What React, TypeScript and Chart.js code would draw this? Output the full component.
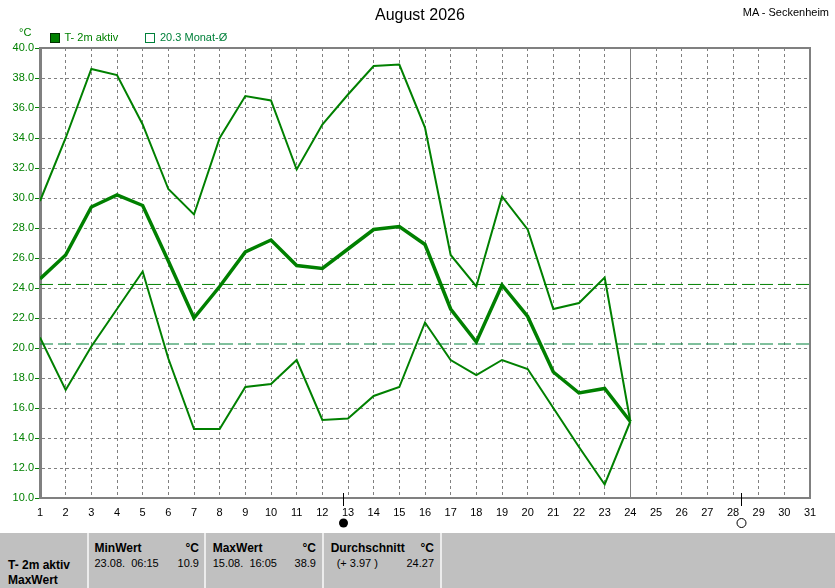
import React, { useEffect, useRef } from "react";
import { Chart, registerables } from "chart.js";

Chart.register(...registerables);

// ---------- data ----------
const days = [1, 2, 3, 4, 5, 6, 7, 8, 9, 10, 11, 12, 13, 14, 15, 16, 17, 18, 19, 20, 21, 22, 23, 24];
const maxValues = [29.8, 34.0, 38.6, 38.2, 34.9, 30.6, 28.9, 34.0, 36.8, 36.5, 31.9, 34.9, 36.9, 38.8, 38.9, 34.7, 26.2, 24.1, 30.1, 27.9, 22.6, 23.0, 24.7, 15.1];
const meanValues = [24.6, 26.2, 29.4, 30.2, 29.5, 25.8, 22.0, 24.1, 26.4, 27.2, 25.5, 25.3, 26.6, 27.9, 28.1, 26.9, 22.6, 20.4, 24.2, 22.1, 18.4, 17.0, 17.3, 15.1];
const minValues = [20.7, 17.2, 20.1, 22.6, 25.1, 19.3, 14.6, 14.6, 17.4, 17.6, 19.2, 15.2, 15.3, 16.8, 17.4, 21.7, 19.2, 18.2, 19.2, 18.6, 16.0, 13.4, 10.9, 15.1];
const periodAverage = 24.27;
const monthAverage = 20.3;
const xTickLabels = ["1", "2", "3", "4", "5", "6", "7", "8", "9", "10", "11", "12", "13", "14", "15", "16", "17", "18", "19", "20", "21", "22", "23", "24", "25", "26", "27", "28", "29", "30", "31"];
const currentDay = 24;
const moonDays = [12.82, 28.3];
const moonPhases = ["new", "full"];

const titleText = "August 2026";
const stationText = "MA - Seckenheim";
const unitText = "°C";
const seriesName = "T- 2m aktiv";
const monthLegend = "20.3 Monat-Ø";
const tableRowLabels = ["T- 2m aktiv", "MaxWert"];
const tableHeaders = ["MinWert", "MaxWert", "Durchschnitt"];
const tableLeft = ["23.08.  06:15", "15.08.  16:05", "(+ 3.97 )"];
const tableRight = ["10.9", "38.9", "24.27"];

// ---------- style ----------
const FONT = "'Liberation Sans', Arial, Helvetica, sans-serif";
const GREEN = "#008000";
const GREEN2 = "#00803a";
const GRAY = "#808080";

function Txt(props: {
  x: number;
  baseline: number;
  size: number;
  bold?: boolean;
  color?: string;
  align?: "left" | "right";
  children: React.ReactNode;
}) {
  const { x, baseline, size, bold, color, align, children } = props;
  const top = baseline - 0.8465 * size;
  const base: React.CSSProperties = {
    position: "absolute",
    top,
    fontFamily: FONT,
    fontSize: size,
    lineHeight: size + "px",
    fontWeight: bold ? "bold" : "normal",
    color: color || "#000",
    whiteSpace: "pre",
  };
  if (align === "right") {
    return (
      <div style={{ ...base, left: x - 300, width: 300, textAlign: "right" }}>{children}</div>
    );
  }
  return <div style={{ ...base, left: x }}>{children}</div>;
}

const framePlugin = {
  id: "frame",
  beforeDatasetsDraw(chart: any) {
    const { ctx, chartArea, scales } = chart;
    const x = scales.x.getPixelForValue(currentDay);
    ctx.save();
    ctx.strokeStyle = GRAY;
    ctx.lineWidth = 1;
    ctx.beginPath();
    ctx.moveTo(Math.round(x) + 0.5, chartArea.top);
    ctx.lineTo(Math.round(x) + 0.5, chartArea.bottom);
    ctx.stroke();
    ctx.lineWidth = 2;
    ctx.beginPath();
    ctx.moveTo(chartArea.left, chartArea.top);
    ctx.lineTo(chartArea.right, chartArea.top);
    ctx.lineTo(chartArea.right, chartArea.bottom);
    ctx.stroke();
    ctx.restore();
  },
  // keep the 1px dashed reference lines crisp
  beforeDatasetDraw(chart: any, args: any) {
    if (args.index >= 3) {
      chart.ctx.save();
      chart.ctx.translate(0, 0.5);
    }
  },
  afterDatasetDraw(chart: any, args: any) {
    if (args.index >= 3) chart.ctx.restore();
  },
  afterDraw(chart: any) {
    const { ctx, chartArea, scales } = chart;
    ctx.save();
    moonDays.forEach((d, i) => {
      const x = Math.round(scales.x.getPixelForValue(d)) + 0.5;
      ctx.strokeStyle = "#000";
      ctx.lineWidth = 1;
      ctx.beginPath();
      ctx.moveTo(x, chartArea.bottom - 5);
      ctx.lineTo(x, chartArea.bottom + 8);
      ctx.stroke();
      ctx.beginPath();
      ctx.arc(x, chartArea.bottom + 25, 4.5, 0, Math.PI * 2);
      if (moonPhases[i] === "new") {
        ctx.fillStyle = "#000";
        ctx.fill();
      } else {
        ctx.fillStyle = "#fff";
        ctx.fill();
        ctx.stroke();
      }
    });
    ctx.restore();
  },
};

export default function App() {
  const canvasRef = useRef<HTMLCanvasElement | null>(null);

  useEffect(() => {
    if (!canvasRef.current) return;
    const pts = (vals: number[]) => vals.map((v, i) => ({ x: days[i], y: v }));
    const flat = (v: number) => [
      { x: 1, y: v },
      { x: 31, y: v },
    ];
    const chart = new Chart(canvasRef.current, {
      type: "line",
      data: {
        datasets: [
          { label: "max", data: pts(maxValues), borderColor: GREEN, borderWidth: 2, pointRadius: 0, tension: 0 },
          { label: "mean", data: pts(meanValues), borderColor: GREEN, borderWidth: 3.5, pointRadius: 0, tension: 0 },
          { label: "min", data: pts(minValues), borderColor: GREEN, borderWidth: 2, pointRadius: 0, tension: 0 },
          { label: "avg", data: flat(periodAverage), borderColor: GREEN, borderWidth: 1, borderDash: [13, 5], pointRadius: 0 },
          { label: "month", data: flat(monthAverage), borderColor: GREEN2, borderWidth: 1, borderDash: [13, 5], pointRadius: 0 },
        ],
      },
      options: {
        animation: false,
        responsive: false,
        devicePixelRatio: 1,
        layout: { padding: { left: 0, top: 48, right: 25, bottom: 0 } },
        plugins: {
          legend: { display: false },
          tooltip: { enabled: false },
          title: { display: false },
        },
        scales: {
          x: {
            type: "linear",
            min: 1,
            max: 31,
            afterFit: (s: any) => {
              s.height = 35;
            },
            ticks: {
              stepSize: 1,
              autoSkip: false,
              maxRotation: 0,
              padding: 8,
              color: "#000",
              font: { family: FONT, size: 11 },
              callback: (v: any) => xTickLabels[Math.round(v) - 1] ?? "",
            },
            grid: { color: GRAY, lineWidth: 1, drawTicks: false },
            border: { display: true, color: GRAY, width: 2, dash: [3, 3] },
          },
          y: {
            type: "linear",
            min: 10,
            max: 40,
            afterFit: (s: any) => {
              s.width = 40;
            },
            ticks: {
              stepSize: 2,
              padding: 1,
              color: GREEN,
              font: { family: FONT, size: 11 },
              callback: (v: any) => Number(v).toFixed(1),
            },
            grid: {
              color: GRAY,
              lineWidth: 1,
              drawTicks: true,
              tickLength: 5,
              tickColor: GREEN,
              tickBorderDash: [],
            },
            border: { display: true, color: GRAY, width: 3, dash: [3, 3] },
          },
        },
      },
      plugins: [framePlugin],
    } as any);
    return () => chart.destroy();
  }, []);

  const sepXs = [87, 204, 322, 440];
  const colLeft = [94.5, 212.7, 330.7];
  const colRight = [199, 316, 434];

  return (
    <div
      style={{
        position: "absolute",
        left: 0,
        top: 0,
        width: 835,
        height: 588,
        background: "#fff",
        overflow: "hidden",
        fontFamily: FONT,
      }}
    >
      <canvas ref={canvasRef} width={835} height={533} style={{ position: "absolute", left: 0, top: 0, width: 835, height: 533 }} />

      <Txt x={375} baseline={20.7} size={16}>
        {titleText}
      </Txt>
      <Txt x={829} baseline={16.7} size={11} align="right">
        {stationText}
      </Txt>
      <Txt x={19} baseline={36.7} size={11} color={GREEN}>
        {unitText}
      </Txt>

      <div style={{ position: "absolute", left: 50, top: 33, width: 8, height: 8, background: GREEN, border: "1px solid #003000" }} />
      <Txt x={64.5} baseline={41.7} size={11} color={GREEN}>
        {seriesName}
      </Txt>
      <div style={{ position: "absolute", left: 145, top: 33, width: 8, height: 8, border: "1px solid " + GREEN2 }} />
      <Txt x={160} baseline={41.7} size={11} color={GREEN2}>
        {monthLegend}
      </Txt>

      <div style={{ position: "absolute", left: 0, top: 533, width: 835, height: 55, background: "#c0c0c0" }} />
      {sepXs.map((x) => (
        <div key={x} style={{ position: "absolute", left: x, top: 533, width: 2, height: 55, background: "#ececec" }} />
      ))}
      <Txt x={8} baseline={569} size={12} bold>
        {tableRowLabels[0]}
      </Txt>
      <Txt x={8} baseline={584.3} size={12} bold>
        {tableRowLabels[1]}
      </Txt>
      {tableHeaders.map((h, i) => (
        <React.Fragment key={h}>
          <Txt x={colLeft[i]} baseline={552.3} size={12} bold>
            {h}
          </Txt>
          <Txt x={colRight[i]} baseline={552.3} size={12} bold align="right">
            {unitText}
          </Txt>
          <Txt x={colLeft[i] + (i === 2 ? 6 : 0)} baseline={567.5} size={11}>
            {tableLeft[i]}
          </Txt>
          <Txt x={colRight[i]} baseline={567.5} size={11} align="right">
            {tableRight[i]}
          </Txt>
        </React.Fragment>
      ))}
    </div>
  );
}
